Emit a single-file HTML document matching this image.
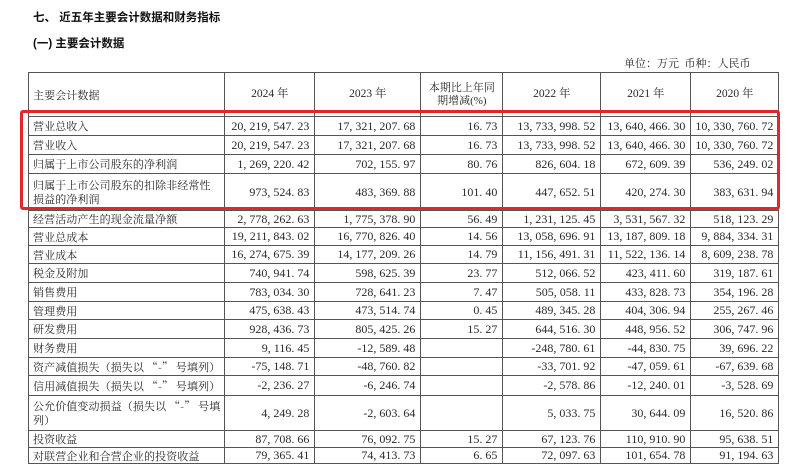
<!DOCTYPE html>
<html><head><meta charset="utf-8">
<style>
body{margin:0;width:800px;height:469px;background:#fff;position:relative;overflow:hidden;font-family:"Liberation Serif","Noto Serif CJK SC",serif;color:#2a2a2a}
.t1{position:absolute;left:33px;top:9px;font:bold 11.5px "Liberation Sans","Noto Sans CJK SC",sans-serif;color:#111;white-space:pre}
.t2{position:absolute;left:33px;top:35px;font:bold 11.5px "Liberation Sans","Noto Sans CJK SC",sans-serif;color:#111;white-space:pre}
.unit{position:absolute;left:624px;top:55px;font-size:11px;white-space:pre}
table{position:absolute;left:28px;top:72px;border-collapse:collapse;table-layout:fixed}
td{border:1px solid #555;padding:0 4px;font-size:11px;line-height:13px;white-space:nowrap;overflow:hidden}
td.n{text-align:right;font-size:12px;padding-right:5px}
td.h{text-align:center;font-size:11.5px}
td.l{font-family:"Noto Serif CJK SC",serif;font-size:11px;letter-spacing:0.1px;white-space:normal;line-height:14px}
td.nw{white-space:nowrap}
.box{position:absolute;left:20px;top:110px;width:754px;height:94px;border:3px solid #e3262b;border-radius:3px}
</style></head><body>
<div class="t1">七、 近五年主要会计数据和财务指标</div>
<div class="t2">(一) 主要会计数据</div>
<div class="unit">单位：万元  币种：人民币</div>
<table>
<colgroup><col style="width:196px"><col style="width:90px"><col style="width:106px"><col style="width:82px"><col style="width:98px"><col style="width:90px"><col style="width:83px"></colgroup>
<tr style="height:44px"><td class="l">主要会计数据</td><td class="h">2024 年</td><td class="h">2023 年</td><td class="h" style="white-space:normal;font-size:11px">本期比上年同期增减(%)</td><td class="h">2022 年</td><td class="h">2021 年</td><td class="h">2020 年</td></tr>
<tr style="height:19px"><td class="l">营业总收入</td><td class="n">20, 219, 547. 23</td><td class="n">17, 321, 207. 68</td><td class="n">16. 73</td><td class="n">13, 733, 998. 52</td><td class="n">13, 640, 466. 30</td><td class="n">10, 330, 760. 72</td></tr>
<tr style="height:19px"><td class="l">营业收入</td><td class="n">20, 219, 547. 23</td><td class="n">17, 321, 207. 68</td><td class="n">16. 73</td><td class="n">13, 733, 998. 52</td><td class="n">13, 640, 466. 30</td><td class="n">10, 330, 760. 72</td></tr>
<tr style="height:19px"><td class="l">归属于上市公司股东的净利润</td><td class="n">1, 269, 220. 42</td><td class="n">702, 155. 97</td><td class="n">80. 76</td><td class="n">826, 604. 18</td><td class="n">672, 609. 39</td><td class="n">536, 249. 02</td></tr>
<tr style="height:37px"><td class="l">归属于上市公司股东的扣除非经常性损益的净利润</td><td class="n">973, 524. 83</td><td class="n">483, 369. 88</td><td class="n">101. 40</td><td class="n">447, 652. 51</td><td class="n">420, 274. 30</td><td class="n">383, 631. 94</td></tr>
<tr style="height:17px"><td class="l">经营活动产生的现金流量净额</td><td class="n">2, 778, 262. 63</td><td class="n">1, 775, 378. 90</td><td class="n">56. 49</td><td class="n">1, 231, 125. 45</td><td class="n">3, 531, 567. 32</td><td class="n">518, 123. 29</td></tr>
<tr style="height:18px"><td class="l">营业总成本</td><td class="n">19, 211, 843. 02</td><td class="n">16, 770, 826. 40</td><td class="n">14. 56</td><td class="n">13, 058, 696. 91</td><td class="n">13, 187, 809. 18</td><td class="n">9, 884, 334. 31</td></tr>
<tr style="height:18px"><td class="l">营业成本</td><td class="n">16, 274, 675. 39</td><td class="n">14, 177, 209. 26</td><td class="n">14. 79</td><td class="n">11, 156, 491. 31</td><td class="n">11, 522, 136. 14</td><td class="n">8, 609, 238. 78</td></tr>
<tr style="height:19px"><td class="l">税金及附加</td><td class="n">740, 941. 74</td><td class="n">598, 625. 39</td><td class="n">23. 77</td><td class="n">512, 066. 52</td><td class="n">423, 411. 60</td><td class="n">319, 187. 61</td></tr>
<tr style="height:19px"><td class="l">销售费用</td><td class="n">783, 034. 30</td><td class="n">728, 641. 23</td><td class="n">7. 47</td><td class="n">505, 058. 11</td><td class="n">433, 828. 73</td><td class="n">354, 196. 28</td></tr>
<tr style="height:18px"><td class="l">管理费用</td><td class="n">475, 638. 43</td><td class="n">473, 514. 74</td><td class="n">0. 45</td><td class="n">489, 345. 28</td><td class="n">404, 306. 94</td><td class="n">255, 267. 46</td></tr>
<tr style="height:19px"><td class="l">研发费用</td><td class="n">928, 436. 73</td><td class="n">805, 425. 26</td><td class="n">15. 27</td><td class="n">644, 516. 30</td><td class="n">448, 956. 52</td><td class="n">306, 747. 96</td></tr>
<tr style="height:19px"><td class="l">财务费用</td><td class="n">9, 116. 45</td><td class="n">-12, 589. 48</td><td class="n"></td><td class="n">-248, 780. 61</td><td class="n">-44, 830. 75</td><td class="n">39, 696. 22</td></tr>
<tr style="height:18px"><td class="l nw">资产减值损失（损失以 “-” 号填列）</td><td class="n">-75, 148. 71</td><td class="n">-48, 760. 82</td><td class="n"></td><td class="n">-33, 701. 92</td><td class="n">-47, 059. 61</td><td class="n">-67, 639. 68</td></tr>
<tr style="height:20px"><td class="l nw">信用减值损失（损失以 “-” 号填列）</td><td class="n">-2, 236. 27</td><td class="n">-6, 246. 74</td><td class="n"></td><td class="n">-2, 578. 86</td><td class="n">-12, 240. 01</td><td class="n">-3, 528. 69</td></tr>
<tr style="height:35px"><td class="l nw">公允价值变动损益（损失以 “-” 号填<br>列）</td><td class="n">4, 249. 28</td><td class="n">-2, 603. 64</td><td class="n"></td><td class="n">5, 033. 75</td><td class="n">30, 644. 09</td><td class="n">16, 520. 86</td></tr>
<tr style="height:17px"><td class="l">投资收益</td><td class="n">87, 708. 66</td><td class="n">76, 092. 75</td><td class="n">15. 27</td><td class="n">67, 123. 76</td><td class="n">110, 910. 90</td><td class="n">95, 638. 51</td></tr>
<tr style="height:16px"><td class="l">对联营企业和合营企业的投资收益</td><td class="n">79, 365. 41</td><td class="n">74, 413. 73</td><td class="n">6. 65</td><td class="n">72, 097. 63</td><td class="n">101, 654. 78</td><td class="n">91, 194. 63</td></tr>
</table>
<div class="box"></div>
</body></html>
